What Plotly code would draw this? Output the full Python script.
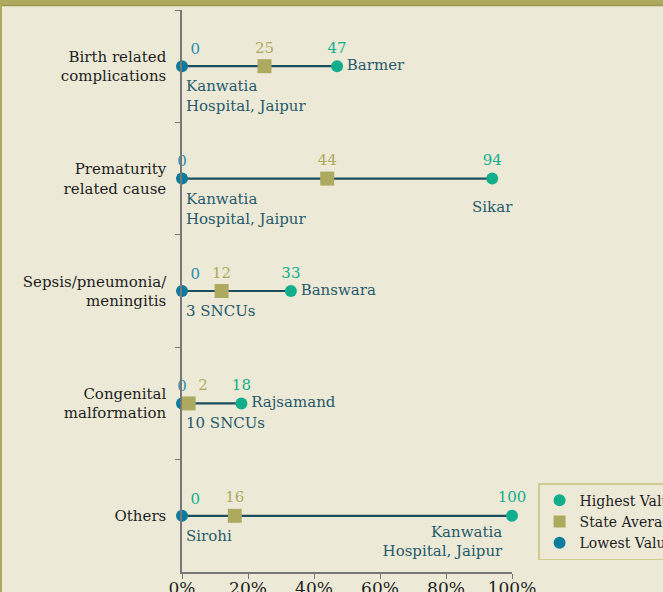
import plotly.graph_objects as go

# causes of death, lowest / state average / highest share (%)
categories = ["Birth related<br>complications", "Prematurity<br>related cause",
              "Sepsis/pneumonia/<br>meningitis", "Congenital<br>malformation", "Others"]
lowest = [0, 0, 0, 0, 0]
state_avg = [25, 44, 12, 2, 16]
highest = [47, 94, 33, 18, 100]
lowest_place = ["Kanwatia<br>Hospital, Jaipur", "Kanwatia<br>Hospital, Jaipur",
                "3 SNCUs", "10 SNCUs", "Sirohi"]
highest_place = ["Barmer", "Sikar", "Banswara", "Rajsamand", "Kanwatia<br>Hospital, Jaipur"]
x_ticks = [0, 20, 40, 60, 80, 100]
x_tick_labels = ["0%", "20%", "40%", "60%", "80%", "100%"]

BG = "#ECEAD7"
OLIVE = "#ADAA60"
GREEN = "#12AE8C"
BLUE = "#0D7B9D"
LINE = "#1C4E5E"
PLACE = "#27596A"
FONT = "DejaVu Serif"
FS = 15

fig = go.Figure()

# connecting lines
lx, ly = [], []
for c, lo, hi in zip(categories, lowest, highest):
    lx += [lo, hi, None]
    ly += [c, c, None]
fig.add_trace(go.Scatter(x=lx, y=ly, mode="lines", line=dict(color=LINE, width=2.2),
                         showlegend=False, hoverinfo="skip", cliponaxis=False))

fig.add_trace(go.Scatter(x=lowest, y=categories, mode="markers", name="Lowest Value",
                         marker=dict(symbol="circle", size=12, color=BLUE), cliponaxis=False))
fig.add_trace(go.Scatter(x=state_avg, y=categories, mode="markers", name="State Average",
                         marker=dict(symbol="square", size=14, color=OLIVE), cliponaxis=False))
fig.add_trace(go.Scatter(x=highest, y=categories, mode="markers", name="Highest Value",
                         marker=dict(symbol="circle", size=12, color=GREEN), cliponaxis=False))


def text_trace(xs, texts, pos, color, gap=14):
    # invisible markers give the text an offset from the point
    return go.Scatter(x=xs, y=categories, mode="markers+text", text=texts, textposition=pos,
                      marker=dict(size=gap, opacity=0),
                      textfont=dict(family=FONT, size=FS, color=color),
                      showlegend=False, hoverinfo="skip", cliponaxis=False)


# value labels
fig.add_trace(text_trace(lowest, [str(v) for v in lowest],
                         ["top right", "top center", "top right", "top center", "top right"],
                         ["#2A8DB3"] * 4 + [GREEN], gap=12))
fig.add_trace(text_trace(state_avg, [str(v) for v in state_avg],
                         ["top center", "top center", "top center", "top right", "top center"], OLIVE))
fig.add_trace(text_trace(highest, [str(v) for v in highest], "top center", GREEN))

# place labels
for x, c, t in zip(lowest, categories, lowest_place):
    fig.add_annotation(x=x, y=c, text=t, showarrow=False, xanchor="left", yanchor="top",
                       align="left", xshift=2, yshift=-9,
                       font=dict(family=FONT, size=FS, color=PLACE))
fig.add_trace(text_trace(highest, highest_place,
                         ["middle right", "bottom center", "middle right", "middle right", "bottom left"],
                         PLACE, gap=[14, 34, 14, 14, 14]))

fig.update_layout(
    width=663, height=592,
    margin=dict(l=182, r=151, t=10, b=20, autoexpand=False),
    paper_bgcolor=BG, plot_bgcolor=BG,
    font=dict(family=FONT, color="#1E1E1E"),
    legend=dict(x=1.079, y=0.158, xanchor="left", yanchor="top", traceorder="reversed",
                bgcolor=BG, bordercolor="#CFCB93", borderwidth=1.5,
                font=dict(family=FONT, size=14, color="#1E1E1E"),
                itemsizing="constant", itemwidth=30, tracegroupgap=0),
    shapes=[
        dict(type="rect", xref="paper", yref="paper", x0=-0.56, x1=1.46, y0=1.008, y1=1.03,
             fillcolor=OLIVE, line=dict(width=0), layer="below"),
        dict(type="line", xref="paper", yref="paper", x0=-0.56, x1=1.46, y0=1.008, y1=1.008,
             line=dict(color="#9C994E", width=1.5)),
        dict(type="line", xref="paper", yref="paper", x0=-0.5485, x1=-0.5485, y0=-0.05, y1=1.01,
             line=dict(color=OLIVE, width=2)),
    ],
)

fig.update_xaxes(range=[0, 100], tickvals=x_ticks, ticktext=x_tick_labels,
                 showgrid=False, zeroline=False,
                 showline=True, linecolor="#777777", linewidth=1.5,
                 ticks="outside", ticklen=5, tickcolor="#777777", ticklabelstandoff=-5,
                 tickfont=dict(family=FONT, size=17, color="#1E1E1E"))
fig.update_yaxes(categoryorder="array", categoryarray=categories, range=[4.5, -0.5],
                 tickson="boundaries", ticks="outside", ticklen=5, tickcolor="#777777",
                 showgrid=False, zeroline=False, showline=True, linecolor="#777777", linewidth=1.5,
                 ticklabelstandoff=11,
                 tickfont=dict(family=FONT, size=15, color="#1E1E1E"))

# drop the default page margin so the figure sits at the window's corner
fig.write_html("out.html", config={"displayModeBar": False},
               post_script="document.body.style.margin='0';")
